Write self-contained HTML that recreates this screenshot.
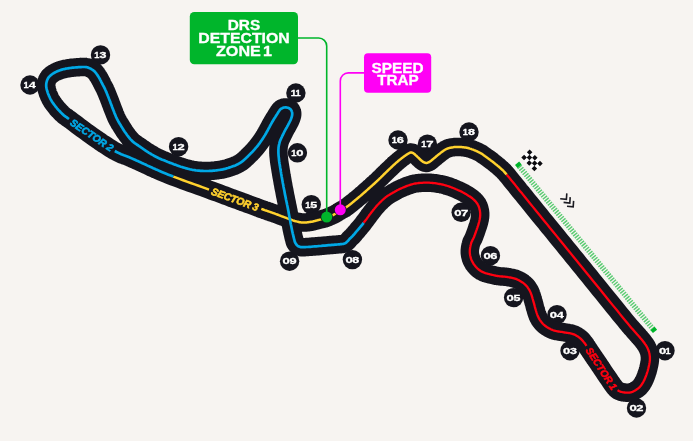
<!DOCTYPE html>
<html lang="en">
<head>
<meta charset="utf-8">
<title>Circuit map</title>
<style>
html,body{margin:0;padding:0;background:#f7f4f1;}
body{width:693px;height:441px;overflow:hidden;font-family:"Liberation Sans",sans-serif;}
svg{display:block;will-change:transform;}
</style>
</head>
<body>
<svg width="693" height="441" viewBox="0 0 693 441">
<rect width="693" height="441" fill="#f7f4f1"/>
<g id="drs-zone">
<path d="M519.2,166.3 L653,329" stroke="#00b52b" stroke-width="5.4" stroke-dasharray="1.45 1.2" fill="none" opacity="0.64"/>
<rect x="-1.9" y="-2.7" width="3.8" height="5.4" fill="#00b52b" transform="translate(518.3,164.8) rotate(50.6)"/>
<rect x="-1.9" y="-2.7" width="3.8" height="5.4" fill="#00b52b" transform="translate(653.8,329.9) rotate(50.6)"/>
</g>
<g id="corner-dots" fill="#15151e">
<circle cx="665.0" cy="350.7" r="9.7"/>
<circle cx="636.5" cy="408.0" r="9.7"/>
<circle cx="570.0" cy="350.7" r="9.7"/>
<circle cx="557.0" cy="314.7" r="9.7"/>
<circle cx="513.6" cy="297.6" r="9.7"/>
<circle cx="490.4" cy="255.7" r="9.7"/>
<circle cx="461.2" cy="212.3" r="9.7"/>
<circle cx="352.4" cy="259.6" r="9.7"/>
<circle cx="289.6" cy="261.2" r="9.7"/>
<circle cx="297.4" cy="152.8" r="9.7"/>
<circle cx="295.9" cy="93.0" r="9.7"/>
<circle cx="178.6" cy="146.7" r="9.7"/>
<circle cx="100.5" cy="54.9" r="9.7"/>
<circle cx="30.0" cy="85.0" r="9.7"/>
<circle cx="311.3" cy="204.6" r="9.7"/>
<circle cx="398.0" cy="140.0" r="9.7"/>
<circle cx="427.4" cy="144.2" r="9.7"/>
<circle cx="469.0" cy="132.0" r="9.7"/>
</g>
<path id="track" d="M506.6,174.5L508.0,176.2L509.6,178.1L511.3,180.3L513.2,182.6L515.3,185.1L517.4,187.8L519.7,190.7L522.2,193.6L524.7,196.8L527.3,200.0L530.1,203.4L533.1,207.1L536.2,211.0L539.5,215.0L542.9,219.2L546.4,223.4L549.8,227.7L553.3,231.9L556.7,236.1L560.0,240.2L563.3,244.2L566.5,248.2L569.8,252.2L573.0,256.2L576.3,260.2L579.5,264.2L582.8,268.2L586.0,272.2L589.3,276.2L592.5,280.2L595.8,284.3L599.3,288.6L602.9,293.0L606.5,297.5L610.1,301.9L613.5,306.1L616.8,310.1L619.8,313.9L622.5,317.2L624.8,320.0L626.7,322.3L628.2,324.1L629.4,325.6L630.4,326.7L631.2,327.7L631.9,328.4L632.5,329.1L633.1,329.8L633.8,330.6L634.6,331.5L635.5,332.5L636.4,333.5L637.2,334.5L638.1,335.4L638.9,336.4L639.8,337.3L640.5,338.2L641.3,339.1L642.0,339.9L642.7,340.8L643.4,341.7L644.0,342.5L644.6,343.3L645.1,344.1L645.7,344.9L646.2,345.7L646.7,346.5L647.1,347.3L647.5,348.1L647.9,348.9L648.2,349.7L648.5,350.5L648.8,351.3L649.1,352.1L649.3,353.0L649.5,353.8L649.6,354.6L649.7,355.4L649.8,356.2L649.9,357.0L649.9,357.8L649.9,358.6L649.9,359.4L649.9,360.1L649.8,360.9L649.7,361.7L649.6,362.5L649.4,363.3L649.3,364.2L649.1,365.0L648.9,365.9L648.7,366.8L648.5,367.7L648.3,368.6L648.0,369.6L647.8,370.5L647.5,371.5L647.2,372.4L646.9,373.3L646.6,374.2L646.3,375.1L646.0,375.9L645.7,376.8L645.3,377.6L645.0,378.5L644.6,379.3L644.3,380.1L643.9,380.8L643.5,381.6L643.1,382.3L642.7,383.0L642.3,383.6L641.9,384.3L641.4,384.9L641.0,385.5L640.6,386.0L640.1,386.6L639.6,387.1L639.1,387.6L638.5,388.1L637.9,388.6L637.3,389.1L636.6,389.5L635.9,390.0L635.2,390.4L634.5,390.8L633.7,391.2L633.0,391.6L632.3,391.9L631.6,392.1L630.9,392.3L630.2,392.5L629.5,392.6L628.8,392.6L628.1,392.7L627.4,392.7L626.7,392.7L626.0,392.7L625.3,392.6L624.6,392.5L623.9,392.4L623.2,392.3L622.4,392.2L621.7,392.0L621.0,391.8L620.3,391.6L619.6,391.3L618.9,391.0L618.2,390.6L617.5,390.2L616.9,389.7L616.3,389.2L615.8,388.7L615.3,388.1L614.8,387.5L614.2,386.8L613.7,386.0L613.0,385.1L612.3,384.1L611.5,383.0L610.6,381.7L609.6,380.2L608.5,378.6L607.3,376.9L606.1,375.1L604.9,373.3L603.6,371.4L602.4,369.6L601.2,367.7L600.0,366.0L598.8,364.2L597.6,362.4L596.3,360.5L595.0,358.7L593.8,356.8L592.5,355.0L591.4,353.3L590.3,351.7L589.3,350.2L588.5,349.0L587.8,348.0L587.3,347.1L586.8,346.4L586.5,345.9L586.2,345.4L585.9,345.0L585.7,344.6L585.4,344.2L585.1,343.8L584.7,343.3L584.3,342.8L583.9,342.2L583.4,341.7L583.0,341.1L582.5,340.6L582.1,340.1L581.6,339.6L581.1,339.1L580.6,338.6L580.0,338.1L579.4,337.6L578.8,337.2L578.2,336.7L577.5,336.3L576.8,335.9L576.1,335.5L575.4,335.1L574.7,334.7L573.9,334.4L573.1,334.1L572.3,333.8L571.4,333.6L570.5,333.4L569.6,333.2L568.7,333.1L567.8,332.9L566.8,332.8L565.9,332.6L564.9,332.5L563.9,332.3L562.9,332.1L561.9,331.9L560.8,331.8L559.7,331.6L558.6,331.5L557.6,331.3L556.5,331.1L555.5,330.9L554.5,330.6L553.5,330.3L552.6,330.0L551.7,329.6L550.8,329.2L550.0,328.8L549.2,328.4L548.4,328.0L547.6,327.5L546.8,327.0L546.1,326.5L545.4,326.0L544.7,325.5L544.1,324.9L543.4,324.3L542.8,323.7L542.2,323.0L541.6,322.4L541.1,321.7L540.6,321.0L540.1,320.3L539.6,319.6L539.2,318.9L538.8,318.1L538.4,317.4L538.1,316.6L537.7,315.9L537.4,315.1L537.1,314.2L536.8,313.4L536.5,312.5L536.2,311.5L535.9,310.5L535.6,309.4L535.2,308.2L534.9,307.1L534.6,305.8L534.3,304.6L534.0,303.4L533.6,302.2L533.3,301.1L533.0,300.0L532.7,299.0L532.4,297.9L532.1,296.9L531.8,295.9L531.5,294.9L531.1,294.0L530.8,293.0L530.4,292.1L530.0,291.2L529.6,290.4L529.1,289.6L528.6,288.8L528.1,288.1L527.6,287.3L527.0,286.6L526.5,286.0L525.9,285.3L525.2,284.7L524.6,284.1L523.9,283.5L523.2,282.9L522.5,282.4L521.7,281.9L520.9,281.4L520.1,280.9L519.2,280.4L518.4,280.0L517.5,279.6L516.7,279.2L515.8,278.9L514.9,278.6L514.0,278.3L513.0,278.1L512.1,277.9L511.1,277.7L510.1,277.5L509.2,277.3L508.3,277.2L507.4,277.0L506.5,276.9L505.7,276.8L504.9,276.7L504.1,276.6L503.3,276.6L502.6,276.5L501.9,276.5L501.2,276.4L500.4,276.4L499.7,276.3L499.0,276.2L498.3,276.1L497.6,276.0L496.9,275.9L496.3,275.8L495.6,275.6L494.9,275.5L494.3,275.3L493.5,275.2L492.8,275.0L492.0,274.8L491.2,274.6L490.2,274.4L489.3,274.1L488.3,273.9L487.3,273.6L486.4,273.4L485.4,273.1L484.4,272.7L483.5,272.4L482.7,272.0L481.9,271.6L481.1,271.2L480.4,270.7L479.7,270.2L479.0,269.7L478.3,269.2L477.6,268.6L477.0,268.0L476.4,267.4L475.8,266.8L475.2,266.1L474.7,265.4L474.2,264.7L473.6,264.0L473.2,263.2L472.7,262.4L472.3,261.6L471.9,260.8L471.5,260.0L471.2,259.2L470.9,258.4L470.7,257.6L470.5,256.8L470.3,256.0L470.1,255.2L470.0,254.4L469.9,253.6L469.8,252.8L469.8,252.0L469.8,251.2L469.8,250.4L469.9,249.5L470.0,248.7L470.1,247.8L470.3,247.0L470.4,246.2L470.6,245.3L470.8,244.6L471.0,243.8L471.2,243.1L471.4,242.4L471.6,241.8L471.9,241.3L472.2,240.8L472.4,240.2L472.7,239.7L473.0,239.2L473.3,238.7L473.5,238.1L473.8,237.5L474.1,236.9L474.3,236.2L474.6,235.5L474.8,234.9L475.1,234.2L475.3,233.5L475.6,232.7L475.9,232.0L476.1,231.2L476.4,230.4L476.7,229.6L477.0,228.7L477.3,227.8L477.6,226.8L478.0,225.9L478.3,224.9L478.6,223.9L478.8,223.0L479.1,222.1L479.3,221.2L479.5,220.3L479.7,219.5L479.8,218.7L479.9,217.9L480.1,217.1L480.1,216.3L480.2,215.5L480.2,214.7L480.2,213.9L480.2,213.1L480.1,212.3L480.0,211.5L479.9,210.7L479.7,209.9L479.5,209.1L479.3,208.3L479.1,207.5L478.8,206.7L478.5,206.0L478.2,205.3L477.8,204.6L477.5,204.0L477.1,203.4L476.6,202.8L476.2,202.2L475.7,201.6L475.2,201.0L474.6,200.5L474.1,199.9L473.5,199.4L472.9,198.9L472.3,198.3L471.6,197.8L470.9,197.3L470.2,196.8L469.5,196.3L468.8,195.9L468.0,195.4L467.3,194.9L466.6,194.5L465.9,194.1L465.2,193.7L464.6,193.3L463.9,192.9L463.2,192.5L462.5,192.2L461.8,191.8L461.0,191.4L460.2,191.0L459.3,190.6L458.3,190.2L457.3,189.7L456.1,189.2L455.0,188.7L453.8,188.2L452.5,187.7L451.3,187.3L450.1,186.8L448.9,186.4L447.7,186.0L446.5,185.7L445.4,185.3L444.2,185.0L443.1,184.7L441.9,184.5L440.8,184.2L439.7,184.0L438.5,183.8L437.4,183.6L436.2,183.4L435.0,183.2L433.9,183.1L432.7,183.0L431.6,182.9L430.4,182.8L429.2,182.7L428.1,182.7L426.9,182.7L425.8,182.7L424.6,182.7L423.4,182.7L422.3,182.8L421.1,182.9L420.0,182.9L418.9,183.0L417.7,183.2L416.6,183.3L415.4,183.5L414.3,183.7L413.1,184.0L411.9,184.3L410.7,184.7L409.5,185.1L408.3,185.5L407.1,185.9L405.9,186.4L404.7,186.9L403.6,187.3L402.5,187.8L401.5,188.2L400.6,188.6L399.7,189.0L398.9,189.4L398.2,189.8L397.5,190.1L396.8,190.5L396.1,190.9L395.4,191.3L394.7,191.8L393.9,192.2L393.1,192.6L392.3,193.1L391.5,193.5L390.7,194.0L389.9,194.5L389.1,195.0L388.2,195.5L387.4,196.0L386.6,196.6L385.8,197.2L385.0,197.9L384.2,198.5L383.3,199.3L382.5,200.0L381.7,200.8L380.9,201.6L380.0,202.4L379.2,203.2L378.5,204.0L377.7,204.8L377.0,205.6L376.2,206.4L375.6,207.2L374.9,208.0L374.2,208.9L373.5,209.7L372.9,210.6L372.2,211.4L371.5,212.3L370.8,213.2L370.1,214.1L369.4,215.0L368.8,215.9L368.1,216.9L367.4,217.8L366.7,218.8L366.0,219.8L365.2,220.8L364.4,221.8L363.6,222.9L362.7,224.1L361.7,225.3L360.6,226.6L359.5,228.0L358.3,229.3L357.2,230.7L356.1,231.9L355.1,233.1L354.3,234.1L353.5,235.0L352.9,235.7L352.4,236.3L351.9,236.7L351.6,237.0L351.3,237.3L351.0,237.6L350.8,237.8L350.5,238.0L350.3,238.2L350.0,238.5L349.7,238.8L349.4,239.1L349.2,239.4L348.9,239.7L348.7,240.0L348.5,240.3L348.2,240.6L348.0,240.9L347.7,241.1L347.4,241.4L347.1,241.7L346.9,241.9L346.6,242.2L346.4,242.4L346.1,242.7L345.8,242.9L345.5,243.1L345.1,243.3L344.5,243.5L343.9,243.7L343.2,243.9L342.4,244.0L341.5,244.1L340.6,244.2L339.6,244.3L338.5,244.4L337.3,244.5L336.1,244.6L334.9,244.7L333.5,244.8L332.0,244.9L330.4,245.1L328.7,245.2L326.9,245.4L325.0,245.6L323.1,245.7L321.3,245.9L319.5,246.0L317.8,246.2L316.2,246.3L314.7,246.4L313.2,246.5L311.8,246.7L310.3,246.8L309.0,246.9L307.7,247.0L306.5,247.0L305.4,247.1L304.4,247.2L303.5,247.2L302.8,247.2L302.2,247.2L301.8,247.2L301.4,247.2L301.1,247.2L300.9,247.2L300.7,247.1L300.5,247.1L300.3,247.0L300.0,246.9L299.7,246.8L299.4,246.7L299.1,246.6L298.8,246.4L298.5,246.3L298.2,246.2L298.0,246.0L297.7,245.8L297.4,245.6L297.2,245.4L297.0,245.2L296.7,244.9L296.5,244.7L296.3,244.4L296.1,244.1L295.9,243.8L295.7,243.5L295.5,243.2L295.4,242.9L295.2,242.6L295.1,242.3L294.9,242.0L294.8,241.7L294.7,241.4L294.6,241.1L294.5,240.8L294.5,240.4L294.4,240.0L294.2,239.5L294.1,239.0L293.9,238.4L293.8,237.8L293.6,237.1L293.4,236.4L293.3,235.7L293.1,234.9L292.9,234.1L292.7,233.3L292.5,232.4L292.3,231.5L292.1,230.6L291.9,229.6L291.7,228.6L291.5,227.6L291.3,226.5L291.1,225.4L290.8,224.3L290.6,223.2L290.4,222.1L290.2,221.0L290.0,219.9L289.8,218.9L289.6,217.8L289.4,216.8L289.2,215.7L289.0,214.6L288.8,213.5L288.6,212.3L288.4,211.0L288.1,209.6L287.8,208.1L287.5,206.5L287.1,204.8L286.8,203.1L286.4,201.3L286.0,199.5L285.7,197.7L285.3,195.9L284.9,194.1L284.6,192.3L284.3,190.5L283.9,188.7L283.5,186.8L283.2,184.8L282.8,183.0L282.5,181.1L282.2,179.4L281.9,177.7L281.6,176.3L281.4,175.0L281.2,174.0L281.1,173.1L281.0,172.4L280.9,171.9L280.8,171.5L280.7,171.0L280.7,170.6L280.6,170.1L280.5,169.6L280.4,168.9L280.3,168.1L280.1,167.2L280.0,166.3L279.8,165.4L279.7,164.4L279.5,163.5L279.4,162.5L279.2,161.5L279.1,160.5L279.0,159.6L278.9,158.7L278.8,157.7L278.7,156.8L278.6,155.9L278.5,154.9L278.5,154.0L278.4,153.1L278.4,152.2L278.4,151.3L278.4,150.4L278.4,149.5L278.5,148.7L278.5,147.9L278.6,147.1L278.7,146.3L278.8,145.6L279.0,144.8L279.2,144.0L279.4,143.1L279.6,142.3L279.9,141.4L280.2,140.5L280.6,139.6L281.0,138.7L281.4,137.8L281.9,136.8L282.3,135.9L282.8,135.0L283.2,134.1L283.6,133.3L284.0,132.5L284.4,131.7L284.8,130.9L285.2,130.2L285.6,129.4L286.0,128.7L286.4,128.0L286.8,127.3L287.2,126.5L287.6,125.8L288.0,125.1L288.4,124.3L288.8,123.5L289.2,122.8L289.6,122.0L290.0,121.3L290.3,120.6L290.7,119.8L290.9,119.2L291.2,118.5L291.4,117.9L291.6,117.3L291.8,116.7L291.9,116.1L292.1,115.5L292.1,115.0L292.2,114.5L292.2,114.0L292.2,113.5L292.2,113.0L292.1,112.5L292.0,112.1L291.9,111.6L291.7,111.2L291.5,110.8L291.3,110.4L291.1,110.0L290.8,109.6L290.5,109.3L290.2,109.0L289.8,108.7L289.4,108.5L289.0,108.2L288.6,108.0L288.1,107.8L287.6,107.7L287.1,107.6L286.6,107.5L286.1,107.4L285.6,107.4L285.1,107.4L284.6,107.5L284.1,107.5L283.6,107.6L283.1,107.8L282.6,108.0L282.2,108.2L281.7,108.4L281.2,108.7L280.8,109.0L280.4,109.3L280.0,109.7L279.7,110.1L279.4,110.6L279.1,111.0L278.7,111.5L278.4,112.1L278.0,112.7L277.6,113.3L277.2,114.0L276.7,114.7L276.2,115.5L275.7,116.3L275.2,117.2L274.6,118.1L274.0,119.0L273.4,120.0L272.8,121.0L272.2,122.0L271.6,123.1L271.0,124.2L270.3,125.4L269.7,126.6L269.0,127.9L268.3,129.2L267.6,130.5L266.9,131.7L266.2,133.0L265.5,134.2L264.8,135.4L264.1,136.5L263.4,137.6L262.7,138.7L262.0,139.8L261.3,140.8L260.6,141.8L259.9,142.8L259.1,143.8L258.4,144.8L257.6,145.8L256.8,146.8L256.0,147.7L255.2,148.7L254.4,149.6L253.5,150.6L252.7,151.5L251.8,152.4L251.0,153.3L250.1,154.1L249.2,155.0L248.3,155.9L247.5,156.7L246.6,157.6L245.7,158.4L244.8,159.3L243.9,160.1L243.0,160.9L242.0,161.6L241.0,162.3L240.0,163.0L238.9,163.6L237.8,164.2L236.6,164.8L235.3,165.4L234.1,165.9L232.8,166.3L231.6,166.8L230.3,167.2L229.1,167.6L228.0,168.0L226.9,168.3L225.9,168.6L224.8,168.9L223.8,169.1L222.8,169.4L221.8,169.6L220.8,169.7L219.8,169.9L218.8,170.0L217.7,170.2L216.6,170.3L215.5,170.5L214.3,170.6L213.2,170.7L212.0,170.8L210.9,170.9L209.7,170.9L208.5,171.0L207.4,171.0L206.2,171.0L205.0,171.0L203.9,171.0L202.7,170.9L201.6,170.9L200.4,170.8L199.2,170.7L198.1,170.6L196.9,170.5L195.8,170.4L194.6,170.2L193.4,170.0L192.3,169.8L191.1,169.5L190.0,169.3L188.8,169.0L187.7,168.7L186.6,168.4L185.4,168.1L184.3,167.7L183.1,167.4L181.9,167.0L180.8,166.7L179.6,166.3L178.5,165.9L177.3,165.5L176.1,165.0L175.0,164.6L173.8,164.2L172.7,163.7L171.5,163.3L170.3,162.9L169.2,162.4L168.0,162.0L166.8,161.5L165.7,161.1L164.5,160.6L163.3,160.1L162.2,159.7L161.1,159.2L160.0,158.7L158.9,158.2L157.9,157.7L156.9,157.2L155.9,156.7L154.9,156.2L153.9,155.7L153.0,155.1L152.0,154.6L151.0,154.0L150.0,153.4L149.0,152.8L148.0,152.1L146.9,151.5L145.9,150.8L144.9,150.1L143.8,149.4L142.8,148.7L141.9,148.0L140.9,147.3L140.0,146.7L139.1,146.1L138.3,145.5L137.5,145.0L136.7,144.5L135.9,143.9L135.1,143.4L134.4,142.9L133.7,142.3L132.9,141.7L132.2,141.0L131.5,140.3L130.8,139.6L130.1,138.9L129.5,138.1L128.9,137.3L128.2,136.5L127.6,135.7L126.9,134.8L126.2,133.8L125.5,132.8L124.7,131.7L123.9,130.5L123.1,129.2L122.3,127.9L121.4,126.5L120.6,125.1L119.7,123.8L119.0,122.5L118.2,121.2L117.6,120.0L117.0,118.9L116.5,117.8L116.0,116.8L115.6,115.8L115.2,114.8L114.8,113.9L114.4,112.9L114.1,112.0L113.7,111.0L113.3,110.0L112.9,109.0L112.5,108.0L112.1,107.0L111.8,106.0L111.4,105.0L111.0,104.0L110.6,103.0L110.3,102.0L109.9,101.0L109.5,100.0L109.1,99.0L108.7,97.9L108.3,96.9L107.8,95.8L107.4,94.7L107.0,93.7L106.6,92.7L106.1,91.7L105.8,90.8L105.4,90.0L105.1,89.3L104.8,88.6L104.5,88.0L104.2,87.5L103.9,86.9L103.6,86.4L103.4,85.9L103.1,85.4L102.8,84.9L102.5,84.3L102.2,83.7L101.9,83.0L101.5,82.4L101.2,81.7L100.9,81.0L100.5,80.3L100.1,79.6L99.8,78.9L99.4,78.3L99.0,77.6L98.6,76.9L98.2,76.3L97.7,75.6L97.3,74.9L96.8,74.2L96.4,73.6L95.9,73.0L95.4,72.4L94.9,71.8L94.4,71.3L93.9,70.8L93.3,70.4L92.8,70.0L92.2,69.6L91.7,69.3L91.1,68.9L90.5,68.6L90.0,68.4L89.4,68.1L88.9,67.9L88.4,67.7L88.0,67.5L87.6,67.4L87.2,67.3L86.8,67.2L86.4,67.1L85.9,67.1L85.4,67.0L84.8,67.0L84.0,67.0L83.1,67.0L82.1,67.0L81.0,67.1L79.8,67.1L78.6,67.2L77.3,67.3L76.1,67.4L74.8,67.5L73.6,67.6L72.5,67.7L71.4,67.8L70.3,68.0L69.2,68.1L68.1,68.3L67.1,68.5L66.0,68.6L65.0,68.9L64.0,69.1L63.0,69.3L62.0,69.6L61.0,69.9L60.1,70.2L59.1,70.6L58.2,70.9L57.3,71.3L56.4,71.7L55.6,72.1L54.8,72.5L54.0,73.0L53.3,73.4L52.6,73.8L52.0,74.3L51.4,74.7L50.8,75.2L50.3,75.6L49.8,76.1L49.3,76.6L48.9,77.1L48.5,77.7L48.1,78.2L47.8,78.8L47.5,79.4L47.2,80.0L47.0,80.6L46.8,81.3L46.6,82.0L46.5,82.6L46.3,83.3L46.3,84.0L46.2,84.6L46.2,85.2L46.2,85.8L46.2,86.4L46.3,87.0L46.4,87.6L46.5,88.3L46.6,88.9L46.8,89.6L47.0,90.3L47.2,91.0L47.5,91.8L47.7,92.6L48.0,93.5L48.4,94.4L48.8,95.3L49.1,96.2L49.6,97.1L50.0,98.1L50.4,98.9L50.9,99.8L51.4,100.6L51.9,101.5L52.4,102.3L53.0,103.1L53.6,103.9L54.2,104.7L54.8,105.5L55.4,106.3L56.0,107.0L56.6,107.8L57.2,108.6L57.9,109.3L58.6,110.1L59.3,110.8L60.0,111.5L60.6,112.2L61.3,112.9L62.0,113.6L62.7,114.2L63.3,114.8L63.8,115.3L64.2,115.6L64.5,115.9L64.8,116.1L65.1,116.3L65.5,116.5L66.0,116.9L66.8,117.4L67.7,118.1L69.0,119.0L70.6,120.2L72.5,121.6L74.6,123.2L77.0,125.0L79.4,126.8L82.0,128.7L84.6,130.6L87.1,132.5L89.6,134.3L92.0,136.0L94.3,137.6L96.7,139.3L99.1,140.9L101.5,142.6L103.9,144.2L106.3,145.7L108.6,147.2L110.8,148.6L112.9,149.9L114.8,151.0L116.6,152.0L118.2,152.8L119.8,153.5L121.2,154.2L122.6,154.7L123.9,155.2L125.3,155.7L126.6,156.2L127.9,156.7L129.3,157.3L130.7,157.9L132.1,158.6L133.6,159.2L135.0,159.8L136.4,160.5L137.8,161.1L139.2,161.7L140.5,162.3L141.8,162.9L143.1,163.5L144.3,164.1L145.4,164.6L146.5,165.1L147.5,165.6L148.5,166.1L149.6,166.5L150.7,167.1L151.9,167.6L153.2,168.2L154.6,168.8L156.1,169.5L157.6,170.1L159.1,170.8L160.7,171.5L162.4,172.2L164.3,173.0L166.2,173.8L168.4,174.7L170.7,175.6L173.3,176.6L176.2,177.7L179.5,178.9L183.1,180.2L186.8,181.6L190.7,183.0L194.6,184.4L198.5,185.8L202.2,187.1L205.7,188.4L209.0,189.6L212.0,190.7L214.8,191.7L217.5,192.7L220.1,193.7L222.6,194.6L225.0,195.5L227.5,196.4L229.9,197.3L232.4,198.3L235.0,199.2L237.7,200.2L240.5,201.2L243.3,202.3L246.2,203.3L249.0,204.4L251.8,205.4L254.5,206.4L257.0,207.3L259.3,208.2L261.3,208.9L263.1,209.5L264.6,210.1L265.9,210.5L267.1,210.9L268.1,211.3L269.1,211.6L270.0,211.9L271.0,212.3L272.0,212.6L273.1,213.0L274.3,213.4L275.5,213.9L276.6,214.3L277.8,214.7L279.0,215.2L280.2,215.6L281.3,216.1L282.4,216.5L283.5,216.9L284.6,217.3L285.6,217.7L286.6,218.1L287.6,218.4L288.5,218.8L289.5,219.2L290.4,219.5L291.3,219.8L292.2,220.1L293.0,220.4L293.9,220.7L294.8,221.0L295.6,221.2L296.4,221.4L297.2,221.6L298.0,221.8L298.8,222.0L299.6,222.2L300.4,222.3L301.2,222.4L302.0,222.5L302.8,222.6L303.6,222.6L304.4,222.6L305.1,222.5L305.9,222.5L306.7,222.4L307.5,222.3L308.3,222.2L309.1,222.1L310.0,222.0L310.9,221.8L311.8,221.7L312.8,221.5L313.7,221.2L314.7,221.0L315.7,220.7L316.6,220.5L317.5,220.3L318.4,220.0L319.3,219.8L320.1,219.6L320.9,219.4L321.6,219.2L322.4,219.0L323.1,218.9L323.8,218.7L324.5,218.5L325.2,218.3L325.9,218.0L326.6,217.8L327.3,217.5L328.1,217.2L328.8,217.0L329.6,216.6L330.3,216.3L331.0,216.0L331.8,215.6L332.5,215.3L333.2,215.0L333.9,214.6L334.6,214.2L335.3,213.9L335.9,213.5L336.6,213.1L337.2,212.7L337.9,212.3L338.5,211.9L339.1,211.5L339.8,211.1L340.4,210.7L341.0,210.4L341.6,210.0L342.1,209.8L342.6,209.5L343.1,209.2L343.7,208.9L344.3,208.6L345.0,208.1L345.7,207.6L346.6,207.0L347.6,206.2L348.7,205.4L350.0,204.4L351.3,203.4L352.7,202.3L354.0,201.2L355.4,200.1L356.7,199.0L357.9,198.0L359.1,197.0L360.2,196.1L361.2,195.3L362.1,194.4L363.1,193.6L364.0,192.8L364.9,192.0L365.8,191.2L366.7,190.4L367.6,189.6L368.5,188.8L369.4,188.0L370.4,187.1L371.4,186.3L372.3,185.4L373.3,184.5L374.2,183.7L375.2,182.8L376.1,181.9L377.1,181.1L378.0,180.2L378.9,179.3L379.8,178.4L380.7,177.6L381.6,176.7L382.5,175.8L383.4,174.9L384.3,174.0L385.2,173.1L386.1,172.3L387.0,171.4L387.9,170.5L388.8,169.6L389.7,168.8L390.7,167.9L391.6,167.0L392.5,166.1L393.4,165.3L394.3,164.4L395.2,163.7L396.0,162.9L396.8,162.2L397.7,161.5L398.5,160.8L399.3,160.1L400.1,159.5L400.8,158.9L401.6,158.3L402.3,157.8L403.0,157.3L403.6,156.8L404.2,156.4L404.8,155.9L405.3,155.6L405.8,155.2L406.3,154.9L406.7,154.6L407.1,154.3L407.5,154.1L407.9,153.8L408.3,153.6L408.7,153.4L409.0,153.2L409.3,153.0L409.5,152.9L409.8,152.8L410.0,152.7L410.3,152.6L410.5,152.6L410.7,152.5L411.0,152.5L411.3,152.5L411.5,152.5L411.8,152.6L412.1,152.7L412.3,152.8L412.6,152.9L412.8,153.0L413.1,153.1L413.4,153.3L413.7,153.5L414.0,153.7L414.3,153.9L414.6,154.2L414.9,154.5L415.2,154.8L415.6,155.1L415.9,155.4L416.3,155.7L416.6,156.0L417.0,156.4L417.4,156.8L417.8,157.2L418.3,157.6L418.8,158.1L419.2,158.6L419.7,159.0L420.2,159.5L420.6,159.9L421.0,160.3L421.4,160.6L421.7,160.9L422.0,161.1L422.3,161.3L422.6,161.5L422.8,161.7L423.1,161.8L423.3,161.9L423.5,162.1L423.8,162.2L424.0,162.3L424.2,162.4L424.5,162.5L424.7,162.6L424.9,162.7L425.1,162.7L425.3,162.8L425.5,162.8L425.8,162.9L426.0,162.9L426.2,162.9L426.4,162.9L426.7,162.9L426.9,162.9L427.1,162.8L427.4,162.8L427.6,162.7L427.8,162.6L428.1,162.5L428.3,162.4L428.6,162.3L428.9,162.2L429.1,162.1L429.3,161.9L429.5,161.8L429.8,161.7L430.0,161.5L430.3,161.3L430.7,161.0L431.1,160.7L431.6,160.3L432.2,159.8L432.9,159.3L433.6,158.6L434.4,157.9L435.3,157.2L436.1,156.5L437.0,155.8L437.8,155.1L438.6,154.5L439.3,153.9L440.0,153.4L440.6,152.9L441.2,152.4L441.8,152.0L442.3,151.6L442.9,151.2L443.4,150.8L443.9,150.4L444.5,150.1L445.0,149.8L445.5,149.5L446.0,149.2L446.4,149.0L446.9,148.8L447.3,148.6L447.8,148.4L448.3,148.3L448.8,148.1L449.4,147.9L450.0,147.8L450.7,147.7L451.4,147.5L452.2,147.4L453.1,147.3L453.9,147.1L454.8,147.0L455.7,147.0L456.6,146.9L457.6,146.9L458.5,146.9L459.5,146.9L460.5,147.0L461.5,147.1L462.5,147.2L463.6,147.3L464.7,147.4L465.7,147.6L466.8,147.8L467.9,148.0L468.9,148.3L469.9,148.6L471.0,148.9L472.0,149.3L473.1,149.7L474.1,150.1L475.2,150.5L476.2,151.0L477.2,151.4L478.1,151.9L479.0,152.3L479.8,152.7L480.6,153.2L481.4,153.6L482.1,154.1L482.8,154.6L483.5,155.1L484.2,155.5L484.8,156.0L485.5,156.5L486.2,157.0L486.9,157.5L487.6,158.0L488.2,158.4L488.9,158.9L489.6,159.4L490.2,159.9L490.9,160.4L491.6,160.9L492.3,161.4L493.0,162.0L493.7,162.6L494.5,163.2L495.3,163.9L496.1,164.5L497.0,165.2L497.8,165.9L498.6,166.5L499.4,167.2L500.1,167.9L500.8,168.5L501.4,169.0L501.8,169.4L502.2,169.7L502.5,170.0L502.9,170.3L503.3,170.7L503.8,171.3L504.5,172.1L505.4,173.1Z" fill="none" stroke="#15151e" stroke-width="18.5" stroke-linejoin="round"/>
<path d="M506.6,174.5L508.0,176.2L509.6,178.1L511.3,180.3L513.2,182.6L515.3,185.1L517.4,187.8L519.7,190.7L522.2,193.6L524.7,196.8L527.3,200.0L530.1,203.4L533.1,207.1L536.2,211.0L539.5,215.0L542.9,219.2L546.4,223.4L549.8,227.7L553.3,231.9L556.7,236.1L560.0,240.2L563.3,244.2L566.5,248.2L569.8,252.2L573.0,256.2L576.3,260.2L579.5,264.2L582.8,268.2L586.0,272.2L589.3,276.2L592.5,280.2L595.8,284.3L599.3,288.6L602.9,293.0L606.5,297.5L610.1,301.9L613.5,306.1L616.8,310.1L619.8,313.9L622.5,317.2L624.8,320.0L626.7,322.3L628.2,324.1L629.4,325.6L630.4,326.7L631.2,327.7L631.9,328.4L632.5,329.1L633.1,329.8L633.8,330.6L634.6,331.5L635.5,332.5L636.4,333.5L637.2,334.5L638.1,335.4L638.9,336.4L639.8,337.3L640.5,338.2L641.3,339.1L642.0,339.9L642.7,340.8L643.4,341.7L644.0,342.5L644.6,343.3L645.1,344.1L645.7,344.9L646.2,345.7L646.7,346.5L647.1,347.3L647.5,348.1L647.9,348.9L648.2,349.7L648.5,350.5L648.8,351.3L649.1,352.1L649.3,353.0L649.5,353.8L649.6,354.6L649.7,355.4L649.8,356.2L649.9,357.0L649.9,357.8L649.9,358.6L649.9,359.4L649.9,360.1L649.8,360.9L649.7,361.7L649.6,362.5L649.4,363.3L649.3,364.2L649.1,365.0L648.9,365.9L648.7,366.8L648.5,367.7L648.3,368.6L648.0,369.6L647.8,370.5L647.5,371.5L647.2,372.4L646.9,373.3L646.6,374.2L646.3,375.1L646.0,375.9L645.7,376.8L645.3,377.6L645.0,378.5L644.6,379.3L644.3,380.1L643.9,380.8L643.5,381.6L643.1,382.3L642.7,383.0L642.3,383.6L641.9,384.3L641.4,384.9L641.0,385.5L640.6,386.0L640.1,386.6L639.6,387.1L639.1,387.6L638.5,388.1L637.9,388.6L637.3,389.1L636.6,389.5L635.9,390.0L635.2,390.4L634.5,390.8L633.7,391.2L633.0,391.6L632.3,391.9L631.6,392.1L630.9,392.3L630.2,392.5L629.5,392.6L628.8,392.6L628.1,392.7L627.4,392.7L626.7,392.7L626.0,392.7L625.3,392.6L624.6,392.5L623.9,392.4L623.2,392.3L622.4,392.2L621.7,392.0L621.0,391.8L620.3,391.6L619.6,391.3L618.9,391.0L618.2,390.6L617.5,390.2" fill="none" stroke="#ff0010" stroke-width="2.3" stroke-linejoin="round"/>
<path d="M586.5,345.9L586.2,345.4L585.9,345.0L585.7,344.6L585.4,344.2L585.1,343.8L584.7,343.3L584.3,342.8L583.9,342.2L583.4,341.7L583.0,341.1L582.5,340.6L582.1,340.1L581.6,339.6L581.1,339.1L580.6,338.6L580.0,338.1L579.4,337.6L578.8,337.2L578.2,336.7L577.5,336.3L576.8,335.9L576.1,335.5L575.4,335.1L574.7,334.7L573.9,334.4L573.1,334.1L572.3,333.8L571.4,333.6L570.5,333.4L569.6,333.2L568.7,333.1L567.8,332.9L566.8,332.8L565.9,332.6L564.9,332.5L563.9,332.3L562.9,332.1L561.9,331.9L560.8,331.8L559.7,331.6L558.6,331.5L557.6,331.3L556.5,331.1L555.5,330.9L554.5,330.6L553.5,330.3L552.6,330.0L551.7,329.6L550.8,329.2L550.0,328.8L549.2,328.4L548.4,328.0L547.6,327.5L546.8,327.0L546.1,326.5L545.4,326.0L544.7,325.5L544.1,324.9L543.4,324.3L542.8,323.7L542.2,323.0L541.6,322.4L541.1,321.7L540.6,321.0L540.1,320.3L539.6,319.6L539.2,318.9L538.8,318.1L538.4,317.4L538.1,316.6L537.7,315.9L537.4,315.1L537.1,314.2L536.8,313.4L536.5,312.5L536.2,311.5L535.9,310.5L535.6,309.4L535.2,308.2L534.9,307.1L534.6,305.8L534.3,304.6L534.0,303.4L533.6,302.2L533.3,301.1L533.0,300.0L532.7,299.0L532.4,297.9L532.1,296.9L531.8,295.9L531.5,294.9L531.1,294.0L530.8,293.0L530.4,292.1L530.0,291.2L529.6,290.4L529.1,289.6L528.6,288.8L528.1,288.1L527.6,287.3L527.0,286.6L526.5,286.0L525.9,285.3L525.2,284.7L524.6,284.1L523.9,283.5L523.2,282.9L522.5,282.4L521.7,281.9L520.9,281.4L520.1,280.9L519.2,280.4L518.4,280.0L517.5,279.6L516.7,279.2L515.8,278.9L514.9,278.6L514.0,278.3L513.0,278.1L512.1,277.9L511.1,277.7L510.1,277.5L509.2,277.3L508.3,277.2L507.4,277.0L506.5,276.9L505.7,276.8L504.9,276.7L504.1,276.6L503.3,276.6L502.6,276.5L501.9,276.5L501.2,276.4L500.4,276.4L499.7,276.3L499.0,276.2L498.3,276.1L497.6,276.0L496.9,275.9L496.3,275.8L495.6,275.6L494.9,275.5L494.3,275.3L493.5,275.2L492.8,275.0L492.0,274.8L491.2,274.6L490.2,274.4L489.3,274.1L488.3,273.9L487.3,273.6L486.4,273.4L485.4,273.1L484.4,272.7L483.5,272.4L482.7,272.0L481.9,271.6L481.1,271.2L480.4,270.7L479.7,270.2L479.0,269.7L478.3,269.2L477.6,268.6L477.0,268.0L476.4,267.4L475.8,266.8L475.2,266.1L474.7,265.4L474.2,264.7L473.6,264.0L473.2,263.2L472.7,262.4L472.3,261.6L471.9,260.8L471.5,260.0L471.2,259.2L470.9,258.4L470.7,257.6L470.5,256.8L470.3,256.0L470.1,255.2L470.0,254.4L469.9,253.6L469.8,252.8L469.8,252.0L469.8,251.2L469.8,250.4L469.9,249.5L470.0,248.7L470.1,247.8L470.3,247.0L470.4,246.2L470.6,245.3L470.8,244.6L471.0,243.8L471.2,243.1L471.4,242.4L471.6,241.8L471.9,241.3L472.2,240.8L472.4,240.2L472.7,239.7L473.0,239.2L473.3,238.7L473.5,238.1L473.8,237.5L474.1,236.9L474.3,236.2L474.6,235.5L474.8,234.9L475.1,234.2L475.3,233.5L475.6,232.7L475.9,232.0L476.1,231.2L476.4,230.4L476.7,229.6L477.0,228.7L477.3,227.8L477.6,226.8L478.0,225.9L478.3,224.9L478.6,223.9L478.8,223.0L479.1,222.1L479.3,221.2L479.5,220.3L479.7,219.5L479.8,218.7L479.9,217.9L480.1,217.1L480.1,216.3L480.2,215.5L480.2,214.7L480.2,213.9L480.2,213.1L480.1,212.3L480.0,211.5L479.9,210.7L479.7,209.9L479.5,209.1L479.3,208.3L479.1,207.5L478.8,206.7L478.5,206.0L478.2,205.3L477.8,204.6L477.5,204.0L477.1,203.4L476.6,202.8L476.2,202.2L475.7,201.6L475.2,201.0L474.6,200.5L474.1,199.9L473.5,199.4L472.9,198.9L472.3,198.3L471.6,197.8L470.9,197.3L470.2,196.8L469.5,196.3L468.8,195.9L468.0,195.4L467.3,194.9L466.6,194.5L465.9,194.1L465.2,193.7L464.6,193.3L463.9,192.9L463.2,192.5L462.5,192.2L461.8,191.8L461.0,191.4L460.2,191.0L459.3,190.6L458.3,190.2L457.3,189.7L456.1,189.2L455.0,188.7L453.8,188.2L452.5,187.7L451.3,187.3L450.1,186.8L448.9,186.4L447.7,186.0L446.5,185.7L445.4,185.3L444.2,185.0L443.1,184.7L441.9,184.5L440.8,184.2L439.7,184.0L438.5,183.8L437.4,183.6L436.2,183.4L435.0,183.2L433.9,183.1L432.7,183.0L431.6,182.9L430.4,182.8L429.2,182.7L428.1,182.7L426.9,182.7L425.8,182.7L424.6,182.7L423.4,182.7L422.3,182.8L421.1,182.9L420.0,182.9L418.9,183.0L417.7,183.2L416.6,183.3L415.4,183.5L414.3,183.7L413.1,184.0L411.9,184.3L410.7,184.7L409.5,185.1L408.3,185.5L407.1,185.9L405.9,186.4L404.7,186.9L403.6,187.3L402.5,187.8L401.5,188.2L400.6,188.6L399.7,189.0L398.9,189.4L398.2,189.8L397.5,190.1L396.8,190.5L396.1,190.9L395.4,191.3L394.7,191.8L393.9,192.2L393.1,192.6L392.3,193.1L391.5,193.5L390.7,194.0L389.9,194.5L389.1,195.0L388.2,195.5L387.4,196.0L386.6,196.6L385.8,197.2L385.0,197.9L384.2,198.5L383.3,199.3L382.5,200.0L381.7,200.8L380.9,201.6L380.0,202.4L379.2,203.2L378.5,204.0L377.7,204.8L377.0,205.6L376.2,206.4L375.6,207.2L374.9,208.0L374.2,208.9L373.5,209.7L372.9,210.6L372.2,211.4L371.5,212.3L370.8,213.2L370.1,214.1L369.4,215.0L368.8,215.9L368.1,216.9L367.4,217.8L366.7,218.8L366.0,219.8L365.2,220.8L364.4,221.8L363.6,222.9" fill="none" stroke="#ff0010" stroke-width="2.3" stroke-linejoin="round"/>
<path d="M173.3,176.6L176.2,177.7L179.5,178.9L183.1,180.2L186.8,181.6L190.7,183.0L194.6,184.4L198.5,185.8L202.2,187.1L205.7,188.4L209.0,189.6" fill="none" stroke="#ffd12e" stroke-width="2.5" stroke-linejoin="round"/>
<path d="M261.3,208.9L263.1,209.5L264.6,210.1L265.9,210.5L267.1,210.9L268.1,211.3L269.1,211.6L270.0,211.9L271.0,212.3L272.0,212.6L273.1,213.0L274.3,213.4L275.5,213.9L276.6,214.3L277.8,214.7L279.0,215.2L280.2,215.6L281.3,216.1L282.4,216.5L283.5,216.9L284.6,217.3L285.6,217.7L286.6,218.1L287.6,218.4L288.5,218.8L289.5,219.2L290.4,219.5L291.3,219.8L292.2,220.1L293.0,220.4L293.9,220.7L294.8,221.0L295.6,221.2L296.4,221.4L297.2,221.6L298.0,221.8L298.8,222.0L299.6,222.2L300.4,222.3L301.2,222.4L302.0,222.5L302.8,222.6L303.6,222.6L304.4,222.6L305.1,222.5L305.9,222.5L306.7,222.4L307.5,222.3L308.3,222.2L309.1,222.1L310.0,222.0L310.9,221.8L311.8,221.7L312.8,221.5L313.7,221.2L314.7,221.0L315.7,220.7L316.6,220.5L317.5,220.3L318.4,220.0L319.3,219.8L320.1,219.6L320.9,219.4L321.6,219.2L322.4,219.0L323.1,218.9L323.8,218.7L324.5,218.5L325.2,218.3L325.9,218.0L326.6,217.8L327.3,217.5L328.1,217.2L328.8,217.0L329.6,216.6L330.3,216.3L331.0,216.0L331.8,215.6L332.5,215.3L333.2,215.0L333.9,214.6L334.6,214.2L335.3,213.9L335.9,213.5L336.6,213.1L337.2,212.7L337.9,212.3L338.5,211.9L339.1,211.5L339.8,211.1L340.4,210.7L341.0,210.4L341.6,210.0L342.1,209.8L342.6,209.5L343.1,209.2L343.7,208.9L344.3,208.6L345.0,208.1L345.7,207.6L346.6,207.0L347.6,206.2L348.7,205.4L350.0,204.4L351.3,203.4L352.7,202.3L354.0,201.2L355.4,200.1L356.7,199.0L357.9,198.0L359.1,197.0L360.2,196.1L361.2,195.3L362.1,194.4L363.1,193.6L364.0,192.8L364.9,192.0L365.8,191.2L366.7,190.4L367.6,189.6L368.5,188.8L369.4,188.0L370.4,187.1L371.4,186.3L372.3,185.4L373.3,184.5L374.2,183.7L375.2,182.8L376.1,181.9L377.1,181.1L378.0,180.2L378.9,179.3L379.8,178.4L380.7,177.6L381.6,176.7L382.5,175.8L383.4,174.9L384.3,174.0L385.2,173.1L386.1,172.3L387.0,171.4L387.9,170.5L388.8,169.6L389.7,168.8L390.7,167.9L391.6,167.0L392.5,166.1L393.4,165.3L394.3,164.4L395.2,163.7L396.0,162.9L396.8,162.2L397.7,161.5L398.5,160.8L399.3,160.1L400.1,159.5L400.8,158.9L401.6,158.3L402.3,157.8L403.0,157.3L403.6,156.8L404.2,156.4L404.8,155.9L405.3,155.6L405.8,155.2L406.3,154.9L406.7,154.6L407.1,154.3L407.5,154.1L407.9,153.8L408.3,153.6L408.7,153.4L409.0,153.2L409.3,153.0L409.5,152.9L409.8,152.8L410.0,152.7L410.3,152.6L410.5,152.6L410.7,152.5L411.0,152.5L411.3,152.5L411.5,152.5L411.8,152.6L412.1,152.7L412.3,152.8L412.6,152.9L412.8,153.0L413.1,153.1L413.4,153.3L413.7,153.5L414.0,153.7L414.3,153.9L414.6,154.2L414.9,154.5L415.2,154.8L415.6,155.1L415.9,155.4L416.3,155.7L416.6,156.0L417.0,156.4L417.4,156.8L417.8,157.2L418.3,157.6L418.8,158.1L419.2,158.6L419.7,159.0L420.2,159.5L420.6,159.9L421.0,160.3L421.4,160.6L421.7,160.9L422.0,161.1L422.3,161.3L422.6,161.5L422.8,161.7L423.1,161.8L423.3,161.9L423.5,162.1L423.8,162.2L424.0,162.3L424.2,162.4L424.5,162.5L424.7,162.6L424.9,162.7L425.1,162.7L425.3,162.8L425.5,162.8L425.8,162.9L426.0,162.9L426.2,162.9L426.4,162.9L426.7,162.9L426.9,162.9L427.1,162.8L427.4,162.8L427.6,162.7L427.8,162.6L428.1,162.5L428.3,162.4L428.6,162.3L428.9,162.2L429.1,162.1L429.3,161.9L429.5,161.8L429.8,161.7L430.0,161.5L430.3,161.3L430.7,161.0L431.1,160.7L431.6,160.3L432.2,159.8L432.9,159.3L433.6,158.6L434.4,157.9L435.3,157.2L436.1,156.5L437.0,155.8L437.8,155.1L438.6,154.5L439.3,153.9L440.0,153.4L440.6,152.9L441.2,152.4L441.8,152.0L442.3,151.6L442.9,151.2L443.4,150.8L443.9,150.4L444.5,150.1L445.0,149.8L445.5,149.5L446.0,149.2L446.4,149.0L446.9,148.8L447.3,148.6L447.8,148.4L448.3,148.3L448.8,148.1L449.4,147.9L450.0,147.8L450.7,147.7L451.4,147.5L452.2,147.4L453.1,147.3L453.9,147.1L454.8,147.0L455.7,147.0L456.6,146.9L457.6,146.9L458.5,146.9L459.5,146.9L460.5,147.0L461.5,147.1L462.5,147.2L463.6,147.3L464.7,147.4L465.7,147.6L466.8,147.8L467.9,148.0L468.9,148.3L469.9,148.6L471.0,148.9L472.0,149.3L473.1,149.7L474.1,150.1L475.2,150.5L476.2,151.0L477.2,151.4L478.1,151.9L479.0,152.3L479.8,152.7L480.6,153.2L481.4,153.6L482.1,154.1L482.8,154.6L483.5,155.1L484.2,155.5L484.8,156.0L485.5,156.5L486.2,157.0L486.9,157.5L487.6,158.0L488.2,158.4L488.9,158.9L489.6,159.4L490.2,159.9L490.9,160.4L491.6,160.9L492.3,161.4L493.0,162.0L493.7,162.6L494.5,163.2L495.3,163.9L496.1,164.5L497.0,165.2L497.8,165.9L498.6,166.5L499.4,167.2L500.1,167.9L500.8,168.5L501.4,169.0L501.8,169.4L502.2,169.7L502.5,170.0L502.9,170.3L503.3,170.7L503.8,171.3L504.5,172.1L505.4,173.1L506.6,174.5" fill="none" stroke="#ffd12e" stroke-width="2.5" stroke-linejoin="round"/>
<path d="M363.6,222.9L362.7,224.1L361.7,225.3L360.6,226.6L359.5,228.0L358.3,229.3L357.2,230.7L356.1,231.9L355.1,233.1L354.3,234.1L353.5,235.0L352.9,235.7L352.4,236.3L351.9,236.7L351.6,237.0L351.3,237.3L351.0,237.6L350.8,237.8L350.5,238.0L350.3,238.2L350.0,238.5L349.7,238.8L349.4,239.1L349.2,239.4L348.9,239.7L348.7,240.0L348.5,240.3L348.2,240.6L348.0,240.9L347.7,241.1L347.4,241.4L347.1,241.7L346.9,241.9L346.6,242.2L346.4,242.4L346.1,242.7L345.8,242.9L345.5,243.1L345.1,243.3L344.5,243.5L343.9,243.7L343.2,243.9L342.4,244.0L341.5,244.1L340.6,244.2L339.6,244.3L338.5,244.4L337.3,244.5L336.1,244.6L334.9,244.7L333.5,244.8L332.0,244.9L330.4,245.1L328.7,245.2L326.9,245.4L325.0,245.6L323.1,245.7L321.3,245.9L319.5,246.0L317.8,246.2L316.2,246.3L314.7,246.4L313.2,246.5L311.8,246.7L310.3,246.8L309.0,246.9L307.7,247.0L306.5,247.0L305.4,247.1L304.4,247.2L303.5,247.2L302.8,247.2L302.2,247.2L301.8,247.2L301.4,247.2L301.1,247.2L300.9,247.2L300.7,247.1L300.5,247.1L300.3,247.0L300.0,246.9L299.7,246.8L299.4,246.7L299.1,246.6L298.8,246.4L298.5,246.3L298.2,246.2L298.0,246.0L297.7,245.8L297.4,245.6L297.2,245.4L297.0,245.2L296.7,244.9L296.5,244.7L296.3,244.4L296.1,244.1L295.9,243.8L295.7,243.5L295.5,243.2L295.4,242.9L295.2,242.6L295.1,242.3L294.9,242.0L294.8,241.7L294.7,241.4L294.6,241.1L294.5,240.8L294.5,240.4L294.4,240.0L294.2,239.5L294.1,239.0L293.9,238.4L293.8,237.8L293.6,237.1L293.4,236.4L293.3,235.7L293.1,234.9L292.9,234.1L292.7,233.3L292.5,232.4L292.3,231.5L292.1,230.6L291.9,229.6L291.7,228.6L291.5,227.6L291.3,226.5L291.1,225.4L290.8,224.3L290.6,223.2L290.4,222.1L290.2,221.0L290.0,219.9L289.8,218.9L289.6,217.8L289.4,216.8L289.2,215.7L289.0,214.6L288.8,213.5L288.6,212.3L288.4,211.0L288.1,209.6L287.8,208.1L287.5,206.5L287.1,204.8L286.8,203.1L286.4,201.3L286.0,199.5L285.7,197.7L285.3,195.9L284.9,194.1L284.6,192.3L284.3,190.5L283.9,188.7L283.5,186.8L283.2,184.8L282.8,183.0L282.5,181.1L282.2,179.4L281.9,177.7L281.6,176.3L281.4,175.0L281.2,174.0L281.1,173.1L281.0,172.4L280.9,171.9L280.8,171.5L280.7,171.0L280.7,170.6L280.6,170.1L280.5,169.6L280.4,168.9L280.3,168.1L280.1,167.2L280.0,166.3L279.8,165.4L279.7,164.4L279.5,163.5L279.4,162.5L279.2,161.5L279.1,160.5L279.0,159.6L278.9,158.7L278.8,157.7L278.7,156.8L278.6,155.9L278.5,154.9L278.5,154.0L278.4,153.1L278.4,152.2L278.4,151.3L278.4,150.4L278.4,149.5L278.5,148.7L278.5,147.9L278.6,147.1L278.7,146.3L278.8,145.6L279.0,144.8L279.2,144.0L279.4,143.1L279.6,142.3L279.9,141.4L280.2,140.5L280.6,139.6L281.0,138.7L281.4,137.8L281.9,136.8L282.3,135.9L282.8,135.0L283.2,134.1L283.6,133.3L284.0,132.5L284.4,131.7L284.8,130.9L285.2,130.2L285.6,129.4L286.0,128.7L286.4,128.0L286.8,127.3L287.2,126.5L287.6,125.8L288.0,125.1L288.4,124.3L288.8,123.5L289.2,122.8L289.6,122.0L290.0,121.3L290.3,120.6L290.7,119.8L290.9,119.2L291.2,118.5L291.4,117.9L291.6,117.3L291.8,116.7L291.9,116.1L292.1,115.5L292.1,115.0L292.2,114.5L292.2,114.0L292.2,113.5L292.2,113.0L292.1,112.5L292.0,112.1L291.9,111.6L291.7,111.2L291.5,110.8L291.3,110.4L291.1,110.0L290.8,109.6L290.5,109.3L290.2,109.0L289.8,108.7L289.4,108.5L289.0,108.2L288.6,108.0L288.1,107.8L287.6,107.7L287.1,107.6L286.6,107.5L286.1,107.4L285.6,107.4L285.1,107.4L284.6,107.5L284.1,107.5L283.6,107.6L283.1,107.8L282.6,108.0L282.2,108.2L281.7,108.4L281.2,108.7L280.8,109.0L280.4,109.3L280.0,109.7L279.7,110.1L279.4,110.6L279.1,111.0L278.7,111.5L278.4,112.1L278.0,112.7L277.6,113.3L277.2,114.0L276.7,114.7L276.2,115.5L275.7,116.3L275.2,117.2L274.6,118.1L274.0,119.0L273.4,120.0L272.8,121.0L272.2,122.0L271.6,123.1L271.0,124.2L270.3,125.4L269.7,126.6L269.0,127.9L268.3,129.2L267.6,130.5L266.9,131.7L266.2,133.0L265.5,134.2L264.8,135.4L264.1,136.5L263.4,137.6L262.7,138.7L262.0,139.8L261.3,140.8L260.6,141.8L259.9,142.8L259.1,143.8L258.4,144.8L257.6,145.8L256.8,146.8L256.0,147.7L255.2,148.7L254.4,149.6L253.5,150.6L252.7,151.5L251.8,152.4L251.0,153.3L250.1,154.1L249.2,155.0L248.3,155.9L247.5,156.7L246.6,157.6L245.7,158.4L244.8,159.3L243.9,160.1L243.0,160.9L242.0,161.6L241.0,162.3L240.0,163.0L238.9,163.6L237.8,164.2L236.6,164.8L235.3,165.4L234.1,165.9L232.8,166.3L231.6,166.8L230.3,167.2L229.1,167.6L228.0,168.0L226.9,168.3L225.9,168.6L224.8,168.9L223.8,169.1L222.8,169.4L221.8,169.6L220.8,169.7L219.8,169.9L218.8,170.0L217.7,170.2L216.6,170.3L215.5,170.5L214.3,170.6L213.2,170.7L212.0,170.8L210.9,170.9L209.7,170.9L208.5,171.0L207.4,171.0L206.2,171.0L205.0,171.0L203.9,171.0L202.7,170.9L201.6,170.9L200.4,170.8L199.2,170.7L198.1,170.6L196.9,170.5L195.8,170.4L194.6,170.2L193.4,170.0L192.3,169.8L191.1,169.5L190.0,169.3L188.8,169.0L187.7,168.7L186.6,168.4L185.4,168.1L184.3,167.7L183.1,167.4L181.9,167.0L180.8,166.7L179.6,166.3L178.5,165.9L177.3,165.5L176.1,165.0L175.0,164.6L173.8,164.2L172.7,163.7L171.5,163.3L170.3,162.9L169.2,162.4L168.0,162.0L166.8,161.5L165.7,161.1L164.5,160.6L163.3,160.1L162.2,159.7L161.1,159.2L160.0,158.7L158.9,158.2L157.9,157.7L156.9,157.2L155.9,156.7L154.9,156.2L153.9,155.7L153.0,155.1L152.0,154.6L151.0,154.0L150.0,153.4L149.0,152.8L148.0,152.1L146.9,151.5L145.9,150.8L144.9,150.1L143.8,149.4L142.8,148.7L141.9,148.0L140.9,147.3L140.0,146.7L139.1,146.1L138.3,145.5L137.5,145.0L136.7,144.5L135.9,143.9L135.1,143.4L134.4,142.9L133.7,142.3L132.9,141.7L132.2,141.0L131.5,140.3L130.8,139.6L130.1,138.9L129.5,138.1L128.9,137.3L128.2,136.5L127.6,135.7L126.9,134.8L126.2,133.8L125.5,132.8L124.7,131.7L123.9,130.5L123.1,129.2L122.3,127.9L121.4,126.5L120.6,125.1L119.7,123.8L119.0,122.5L118.2,121.2L117.6,120.0L117.0,118.9L116.5,117.8L116.0,116.8L115.6,115.8L115.2,114.8L114.8,113.9L114.4,112.9L114.1,112.0L113.7,111.0L113.3,110.0L112.9,109.0L112.5,108.0L112.1,107.0L111.8,106.0L111.4,105.0L111.0,104.0L110.6,103.0L110.3,102.0L109.9,101.0L109.5,100.0L109.1,99.0L108.7,97.9L108.3,96.9L107.8,95.8L107.4,94.7L107.0,93.7L106.6,92.7L106.1,91.7L105.8,90.8L105.4,90.0L105.1,89.3L104.8,88.6L104.5,88.0L104.2,87.5L103.9,86.9L103.6,86.4L103.4,85.9L103.1,85.4L102.8,84.9L102.5,84.3L102.2,83.7L101.9,83.0L101.5,82.4L101.2,81.7L100.9,81.0L100.5,80.3L100.1,79.6L99.8,78.9L99.4,78.3L99.0,77.6L98.6,76.9L98.2,76.3L97.7,75.6L97.3,74.9L96.8,74.2L96.4,73.6L95.9,73.0L95.4,72.4L94.9,71.8L94.4,71.3L93.9,70.8L93.3,70.4L92.8,70.0L92.2,69.6L91.7,69.3L91.1,68.9L90.5,68.6L90.0,68.4L89.4,68.1L88.9,67.9L88.4,67.7L88.0,67.5L87.6,67.4L87.2,67.3L86.8,67.2L86.4,67.1L85.9,67.1L85.4,67.0L84.8,67.0L84.0,67.0L83.1,67.0L82.1,67.0L81.0,67.1L79.8,67.1L78.6,67.2L77.3,67.3L76.1,67.4L74.8,67.5L73.6,67.6L72.5,67.7L71.4,67.8L70.3,68.0L69.2,68.1L68.1,68.3L67.1,68.5L66.0,68.6L65.0,68.9L64.0,69.1L63.0,69.3L62.0,69.6L61.0,69.9L60.1,70.2L59.1,70.6L58.2,70.9L57.3,71.3L56.4,71.7L55.6,72.1L54.8,72.5L54.0,73.0L53.3,73.4L52.6,73.8L52.0,74.3L51.4,74.7L50.8,75.2L50.3,75.6L49.8,76.1L49.3,76.6L48.9,77.1L48.5,77.7L48.1,78.2L47.8,78.8L47.5,79.4L47.2,80.0L47.0,80.6L46.8,81.3L46.6,82.0L46.5,82.6L46.3,83.3L46.3,84.0L46.2,84.6L46.2,85.2L46.2,85.8L46.2,86.4L46.3,87.0L46.4,87.6L46.5,88.3L46.6,88.9L46.8,89.6L47.0,90.3L47.2,91.0L47.5,91.8L47.7,92.6L48.0,93.5L48.4,94.4L48.8,95.3L49.1,96.2L49.6,97.1L50.0,98.1L50.4,98.9L50.9,99.8L51.4,100.6L51.9,101.5L52.4,102.3L53.0,103.1L53.6,103.9L54.2,104.7L54.8,105.5L55.4,106.3L56.0,107.0L56.6,107.8L57.2,108.6L57.9,109.3L58.6,110.1L59.3,110.8L60.0,111.5L60.6,112.2L61.3,112.9L62.0,113.6L62.7,114.2L63.3,114.8L63.8,115.3L64.2,115.6L64.5,115.9L64.8,116.1L65.1,116.3L65.5,116.5L66.0,116.9L66.8,117.4L67.7,118.1L69.0,119.0" fill="none" stroke="#00a8e6" stroke-width="2.7" stroke-linejoin="round"/>
<path d="M114.8,151.0L116.6,152.0L118.2,152.8L119.8,153.5L121.2,154.2L122.6,154.7L123.9,155.2L125.3,155.7L126.6,156.2L127.9,156.7L129.3,157.3L130.7,157.9L132.1,158.6L133.6,159.2L135.0,159.8L136.4,160.5L137.8,161.1L139.2,161.7L140.5,162.3L141.8,162.9L143.1,163.5L144.3,164.1L145.4,164.6L146.5,165.1L147.5,165.6L148.5,166.1L149.6,166.5L150.7,167.1L151.9,167.6L153.2,168.2L154.6,168.8L156.1,169.5L157.6,170.1L159.1,170.8L160.7,171.5L162.4,172.2L164.3,173.0L166.2,173.8L168.4,174.7L170.7,175.6L173.3,176.6" fill="none" stroke="#00a8e6" stroke-width="2.7" stroke-linejoin="round"/>
<g id="corner-numbers" fill="#fff" stroke="#fff" stroke-width="0.3" font-family="'Liberation Sans', sans-serif" font-weight="bold" font-size="9.2">
<text x="658.95" y="353.90"><tspan textLength="7.26" lengthAdjust="spacingAndGlyphs">0</tspan><tspan dx="-0.57" textLength="5.14" lengthAdjust="spacingAndGlyphs">1</tspan></text>
<text x="629.50" y="411.20"><tspan textLength="7.26" lengthAdjust="spacingAndGlyphs">0</tspan><tspan dx="-0.44" textLength="7.17" lengthAdjust="spacingAndGlyphs">2</tspan></text>
<text x="563.00" y="353.90"><tspan textLength="7.26" lengthAdjust="spacingAndGlyphs">0</tspan><tspan dx="-0.27" textLength="6.94" lengthAdjust="spacingAndGlyphs">3</tspan></text>
<text x="549.70" y="317.90"><tspan textLength="7.26" lengthAdjust="spacingAndGlyphs">0</tspan><tspan dx="-0.18" textLength="7.06" lengthAdjust="spacingAndGlyphs">4</tspan></text>
<text x="506.60" y="300.80"><tspan textLength="7.26" lengthAdjust="spacingAndGlyphs">0</tspan><tspan dx="-0.37" textLength="6.94" lengthAdjust="spacingAndGlyphs">5</tspan></text>
<text x="483.40" y="258.90"><tspan textLength="7.26" lengthAdjust="spacingAndGlyphs">0</tspan><tspan dx="-0.46" textLength="7.14" lengthAdjust="spacingAndGlyphs">6</tspan></text>
<text x="454.20" y="215.50"><tspan textLength="7.26" lengthAdjust="spacingAndGlyphs">0</tspan><tspan dx="-0.56" textLength="7.35" lengthAdjust="spacingAndGlyphs">7</tspan></text>
<text x="345.40" y="262.80"><tspan textLength="7.26" lengthAdjust="spacingAndGlyphs">0</tspan><tspan dx="-0.39" textLength="6.99" lengthAdjust="spacingAndGlyphs">8</tspan></text>
<text x="282.60" y="264.40"><tspan textLength="7.26" lengthAdjust="spacingAndGlyphs">0</tspan><tspan dx="-0.44" textLength="7.12" lengthAdjust="spacingAndGlyphs">9</tspan></text>
<text x="291.29" y="156.00"><tspan textLength="5.14" lengthAdjust="spacingAndGlyphs">1</tspan><tspan dx="-0.23" textLength="7.26" lengthAdjust="spacingAndGlyphs">0</tspan></text>
<text x="290.74" y="96.20"><tspan textLength="5.14" lengthAdjust="spacingAndGlyphs">1</tspan><tspan dx="-0.29" textLength="5.14" lengthAdjust="spacingAndGlyphs">1</tspan></text>
<text x="172.49" y="149.90"><tspan textLength="5.14" lengthAdjust="spacingAndGlyphs">1</tspan><tspan dx="-0.16" textLength="7.17" lengthAdjust="spacingAndGlyphs">2</tspan></text>
<text x="94.39" y="58.10"><tspan textLength="5.14" lengthAdjust="spacingAndGlyphs">1</tspan><tspan dx="0.00" textLength="6.94" lengthAdjust="spacingAndGlyphs">3</tspan></text>
<text x="23.59" y="88.20"><tspan textLength="5.14" lengthAdjust="spacingAndGlyphs">1</tspan><tspan dx="0.10" textLength="7.06" lengthAdjust="spacingAndGlyphs">4</tspan></text>
<text x="305.19" y="207.80"><tspan textLength="5.14" lengthAdjust="spacingAndGlyphs">1</tspan><tspan dx="-0.10" textLength="6.94" lengthAdjust="spacingAndGlyphs">5</tspan></text>
<text x="391.89" y="143.20"><tspan textLength="5.14" lengthAdjust="spacingAndGlyphs">1</tspan><tspan dx="-0.19" textLength="7.14" lengthAdjust="spacingAndGlyphs">6</tspan></text>
<text x="421.29" y="147.40"><tspan textLength="5.14" lengthAdjust="spacingAndGlyphs">1</tspan><tspan dx="-0.28" textLength="7.35" lengthAdjust="spacingAndGlyphs">7</tspan></text>
<text x="462.89" y="135.20"><tspan textLength="5.14" lengthAdjust="spacingAndGlyphs">1</tspan><tspan dx="-0.11" textLength="6.99" lengthAdjust="spacingAndGlyphs">8</tspan></text>
</g>
<text transform="translate(601.5,368.7) rotate(57.0)" x="0" y="3.51" text-anchor="middle" fill="#ff0010" stroke="#ff0010" stroke-width="0.6" font-family="'Liberation Sans', sans-serif" font-weight="bold" font-style="italic" font-size="10.2" textLength="48.5" lengthAdjust="spacingAndGlyphs" word-spacing="-0.6">SECTOR 1</text>
<text transform="translate(91.8,135.1) rotate(34.0)" x="0" y="3.51" text-anchor="middle" fill="#00a8e6" stroke="#00a8e6" stroke-width="0.6" font-family="'Liberation Sans', sans-serif" font-weight="bold" font-style="italic" font-size="10.2" textLength="49.5" lengthAdjust="spacingAndGlyphs" word-spacing="-0.6">SECTOR 2</text>
<text transform="translate(234.9,199.3) rotate(20.0)" x="0" y="3.51" text-anchor="middle" fill="#ffd12e" stroke="#ffd12e" stroke-width="0.6" font-family="'Liberation Sans', sans-serif" font-weight="bold" font-style="italic" font-size="10.2" textLength="49.5" lengthAdjust="spacingAndGlyphs" word-spacing="-0.6">SECTOR 3</text>
<g id="drs-detect">
<circle cx="326.7" cy="217.1" r="5.5" fill="#00b52b" stroke="#15151e" stroke-width="1.5"/>
<path d="M298,38 H318.7 a8,8 0 0 1 8,8 V217" fill="none" stroke="#00b52b" stroke-width="1.6"/>
<circle cx="326.7" cy="217.1" r="5.5" fill="#00b52b"/>
<rect x="189.8" y="12" width="108.2" height="52.3" rx="4.5" fill="#00b52b"/>
<g fill="#fff" stroke="#fff" stroke-width="0.3" font-family="'Liberation Sans', sans-serif" font-weight="bold" font-size="14" text-anchor="middle">
<text x="244" y="30.2" textLength="32.5" lengthAdjust="spacingAndGlyphs">DRS</text>
<text x="244" y="42.8" textLength="91.5" lengthAdjust="spacingAndGlyphs">DETECTION</text>
<text x="244" y="55.5" textLength="56" lengthAdjust="spacingAndGlyphs" word-spacing="-2">ZONE 1</text>
</g></g>
<g id="speed-trap">
<circle cx="340.3" cy="209.8" r="5.5" fill="#ff00f5" stroke="#15151e" stroke-width="1.5"/>
<path d="M364,72.9 H348.3 a8,8 0 0 0 -8,8 V209.5" fill="none" stroke="#ff00f5" stroke-width="1.6"/>
<circle cx="340.3" cy="209.8" r="5.5" fill="#ff00f5"/>
<rect x="364" y="53.2" width="67.2" height="39.5" rx="4" fill="#ff00f5"/>
<g fill="#fff" stroke="#fff" stroke-width="0.3" font-family="'Liberation Sans', sans-serif" font-weight="bold" font-size="14" text-anchor="middle">
<text x="397.5" y="72.6" textLength="52" lengthAdjust="spacingAndGlyphs">SPEED</text>
<text x="398" y="85" textLength="41.5" lengthAdjust="spacingAndGlyphs">TRAP</text>
</g></g>
<g id="flag">
<rect x="-1.9" y="-1.9" width="3.8" height="3.8" fill="#fff" transform="translate(526.87,154.80) rotate(45)"/>
<rect x="-1.9" y="-1.9" width="3.8" height="3.8" fill="#fff" transform="translate(532.22,155.00) rotate(45)"/>
<rect x="-1.9" y="-1.9" width="3.8" height="3.8" fill="#fff" transform="translate(526.67,160.20) rotate(45)"/>
<rect x="-1.9" y="-1.9" width="3.8" height="3.8" fill="#fff" transform="translate(532.02,160.40) rotate(45)"/>
<rect x="-1.9" y="-1.9" width="3.8" height="3.8" fill="#fff" transform="translate(537.38,160.60) rotate(45)"/>
<rect x="-1.9" y="-1.9" width="3.8" height="3.8" fill="#fff" transform="translate(531.82,165.80) rotate(45)"/>
<rect x="-1.9" y="-1.9" width="3.8" height="3.8" fill="#fff" transform="translate(537.17,166.00) rotate(45)"/>
<rect x="-1.95" y="-1.95" width="3.9" height="3.9" fill="#0c0c10" transform="translate(529.65,152.20) rotate(45)"/>
<rect x="-1.95" y="-1.95" width="3.9" height="3.9" fill="#0c0c10" transform="translate(524.10,157.40) rotate(45)"/>
<rect x="-1.95" y="-1.95" width="3.9" height="3.9" fill="#0c0c10" transform="translate(529.45,157.60) rotate(45)"/>
<rect x="-1.95" y="-1.95" width="3.9" height="3.9" fill="#0c0c10" transform="translate(534.80,157.80) rotate(45)"/>
<rect x="-1.95" y="-1.95" width="3.9" height="3.9" fill="#0c0c10" transform="translate(529.25,163.00) rotate(45)"/>
<rect x="-1.95" y="-1.95" width="3.9" height="3.9" fill="#0c0c10" transform="translate(534.60,163.20) rotate(45)"/>
<rect x="-1.95" y="-1.95" width="3.9" height="3.9" fill="#0c0c10" transform="translate(539.95,163.40) rotate(45)"/>
<rect x="-1.95" y="-1.95" width="3.9" height="3.9" fill="#0c0c10" transform="translate(534.40,168.60) rotate(45)"/>
</g>
<g id="dir" fill="none" stroke="#1b1b22" stroke-width="1.6" stroke-linejoin="miter">
<path d="M560.2,198.7 L566.4,199.3 L566.8,193.4"/>
<path d="M563.6,202.4 L569.8,203.0 L570.2,197.1"/>
<path d="M567.0,206.2 L573.2,206.8 L573.6,200.9"/>
</g>
</svg>
</body>
</html>
